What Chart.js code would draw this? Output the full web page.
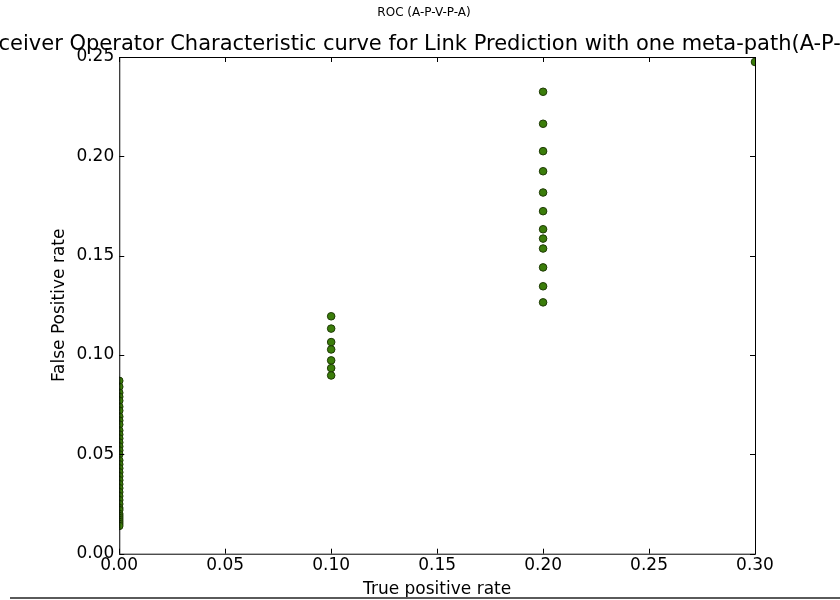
<!DOCTYPE html>
<html>
<head>
<meta charset="utf-8">
<script src="https://cdn.jsdelivr.net/npm/chart.js@4"></script>
<style>
    body { margin: 0; background: #fff; }
    .wrap { position: relative; width: 840px; height: 600px; }
    .rule { position: absolute; left: 10px; top: 597px; width: 830px; height: 2px; background: #5a5a5a; }
</style>
</head>
<body>
<div class="wrap">
    <canvas id="rocChart" width="840" height="600"></canvas>
    <div class="rule"></div>
</div>
<script>
// true positive rate columns
const tprValues = [0, 0.1, 0.2, 0.3];

// false positive rates
const fprAt0 = [0.087, 0.084, 0.081, 0.079, 0.077, 0.074, 0.072, 0.069, 0.067, 0.065,
    0.062, 0.060, 0.058, 0.056, 0.054, 0.052, 0.050, 0.047, 0.045, 0.043,
    0.041, 0.039, 0.037, 0.035, 0.033, 0.031, 0.029, 0.027, 0.025, 0.023,
    0.022, 0.020, 0.019, 0.018, 0.017, 0.016, 0.015, 0.014];
const fprAt01 = [0.1195, 0.1133, 0.1065, 0.1028, 0.0973, 0.0934, 0.0897];
const fprAt02 = [0.2325, 0.2164, 0.2026, 0.1925, 0.1818, 0.1724, 0.1633, 0.1586, 0.1536, 0.1441, 0.1346, 0.1265];
const fprAt03 = [0.2475];

const xTicks = [0, 0.05, 0.10, 0.15, 0.20, 0.25, 0.30];
const yTicks = [0, 0.05, 0.10, 0.15, 0.20, 0.25];

const figTitle = 'ROC (A-P-V-P-A)';
const mainTitle = 'Receiver Operator Characteristic curve for Link Prediction with one meta-path(A-P-V-P-A)';

const columns = [fprAt0, fprAt01, fprAt02, fprAt03];
const points = [];
columns.forEach((col, i) => {
    col.forEach(v => points.push({ x: tprValues[i], y: v }));
});

const font = 'DejaVu Sans';

// matplotlib-like frame with inward ticks, plus both titles (drawn unsqueezed)
const frameTicks = {
    id: 'frameTicks',
    afterDatasetsDraw(chart) {
        const { ctx, chartArea: a, scales } = chart;
        ctx.save();
        ctx.strokeStyle = '#000';
        ctx.lineWidth = 1;
        ctx.strokeRect(a.left + 0.5, a.top + 0.5, a.right - a.left, a.bottom - a.top);
        ctx.beginPath();
        xTicks.forEach(v => {
            const px = Math.round(scales.x.getPixelForValue(v)) + 0.5;
            ctx.moveTo(px, a.bottom); ctx.lineTo(px, a.bottom - 5);
            ctx.moveTo(px, a.top); ctx.lineTo(px, a.top + 5);
        });
        yTicks.forEach(v => {
            const py = Math.round(scales.y.getPixelForValue(v)) + 0.5;
            ctx.moveTo(a.left, py); ctx.lineTo(a.left + 5, py);
            ctx.moveTo(a.right, py); ctx.lineTo(a.right - 5, py);
        });
        ctx.stroke();

        ctx.fillStyle = '#000';
        ctx.textAlign = 'center';
        ctx.textBaseline = 'middle';
        ctx.font = '12px "' + font + '"';
        ctx.fillText(figTitle, chart.width / 2 + 4, 13);
        ctx.font = '21px "' + font + '"';
        ctx.fillText(mainTitle, (a.left + a.right) / 2, 45);
        ctx.restore();
    }
};

const ctx = document.getElementById('rocChart').getContext('2d');
new Chart(ctx, {
    type: 'scatter',
    data: {
        datasets: [{
            data: points,
            backgroundColor: '#3b7d0a',
            borderColor: '#1e3a05',
            borderWidth: 1,
            pointRadius: 3.8,
            clip: 0
        }]
    },
    options: {
        responsive: false,
        animation: false,
        layout: { padding: { left: 42, right: 85, top: 57, bottom: 0 } },
        plugins: {
            legend: { display: false },
            tooltip: { enabled: false }
        },
        scales: {
            x: {
                type: 'linear',
                min: 0,
                max: 0.3,
                afterBuildTicks: axis => { axis.ticks = xTicks.map(v => ({ value: v })); },
                grid: { display: false, drawTicks: false, tickLength: 0 },
                border: { display: false },
                ticks: {
                    color: '#000',
                    padding: 2,
                    maxRotation: 0,
                    font: { family: font, size: 17 },
                    callback: v => v.toFixed(2)
                },
                title: {
                    display: true,
                    text: 'True positive rate',
                    color: '#000',
                    font: { family: font, size: 17 },
                    padding: { top: 1.5, bottom: 0 }
                }
            },
            y: {
                min: 0,
                max: 0.25,
                afterBuildTicks: axis => { axis.ticks = yTicks.map(v => ({ value: v })); },
                grid: { display: false, drawTicks: false, tickLength: 0 },
                border: { display: false },
                ticks: {
                    color: '#000',
                    padding: 5,
                    font: { family: font, size: 17 },
                    callback: v => v.toFixed(2)
                },
                title: {
                    display: true,
                    text: 'False Positive rate',
                    color: '#000',
                    font: { family: font, size: 17 },
                    padding: { top: 7, bottom: 2 }
                }
            }
        }
    },
    plugins: [frameTicks]
});
</script>
</body>
</html>
